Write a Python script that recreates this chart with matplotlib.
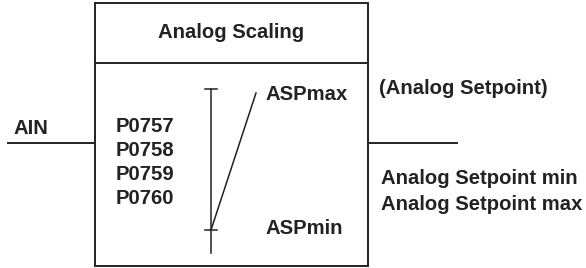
import matplotlib
matplotlib.use("Agg")
import matplotlib.pyplot as plt

plt.rcParams['font.family'] = ['Liberation Sans', 'DejaVu Sans']

title = "Analog Scaling"
input_label = "AIN"
param_labels = ["P0757", "P0758", "P0759", "P0760"]
param_y = [127, 151, 175, 198]
scale_labels = ["ASPmax", "ASPmin"]
scale_y = [94, 228]
output_label = "(Analog Setpoint)"
output_notes = ["Analog Setpoint min", "Analog Setpoint max"]
note_y = [178, 205]

W, H = 586, 268
fig = plt.figure(figsize=(W / 100, H / 100), dpi=100)
ax = fig.add_axes([0, 0, 1, 1])
ax.set_xlim(0, W)
ax.set_ylim(H, 0)
ax.axis('off')

col = '#222222'
lw = 1.4
fs = 14.6

# box
bx0, bx1, by0, by1, bdiv = 95, 368, 3, 266, 63
ax.plot([bx0, bx1, bx1, bx0, bx0], [by0, by0, by1, by1, by0], color=col, lw=lw, solid_joinstyle='miter')
ax.plot([bx0, bx1], [bdiv, bdiv], color=col, lw=lw)
ax.text((bx0 + bx1) / 2, 33, title, ha='center', va='center', fontsize=fs, fontweight='bold', color=col)

# input / output lines
ax.plot([8, bx0], [143, 143], color=col, lw=lw)
ax.plot([bx1, 457], [143, 143], color=col, lw=lw)
ax.text(14, 129, input_label, ha='left', va='center', fontsize=fs, fontweight='bold', color=col)

# params
for lab, y in zip(param_labels, param_y):
    ax.text(116, y, lab, ha='left', va='center', fontsize=fs, fontweight='bold', color=col)

# scale axis
ax.plot([211, 211], [89, 253], color=col, lw=1.1)
ax.plot([205, 217], [89, 89], color=col, lw=1.1)
ax.plot([205, 217], [230, 230], color=col, lw=1.1)
ax.plot([211, 256], [230, 93], color=col, lw=1.1)
for lab, y in zip(scale_labels, scale_y):
    ax.text(265, y, lab, ha='left', va='center', fontsize=fs, fontweight='bold', color=col)

ax.text(379, 89, output_label, ha='left', va='center', fontsize=fs, fontweight='bold', color=col)
for lab, y in zip(output_notes, note_y):
    ax.text(381, y, lab, ha='left', va='center', fontsize=fs, fontweight='bold', color=col)

fig.savefig('out.png', dpi=100)
